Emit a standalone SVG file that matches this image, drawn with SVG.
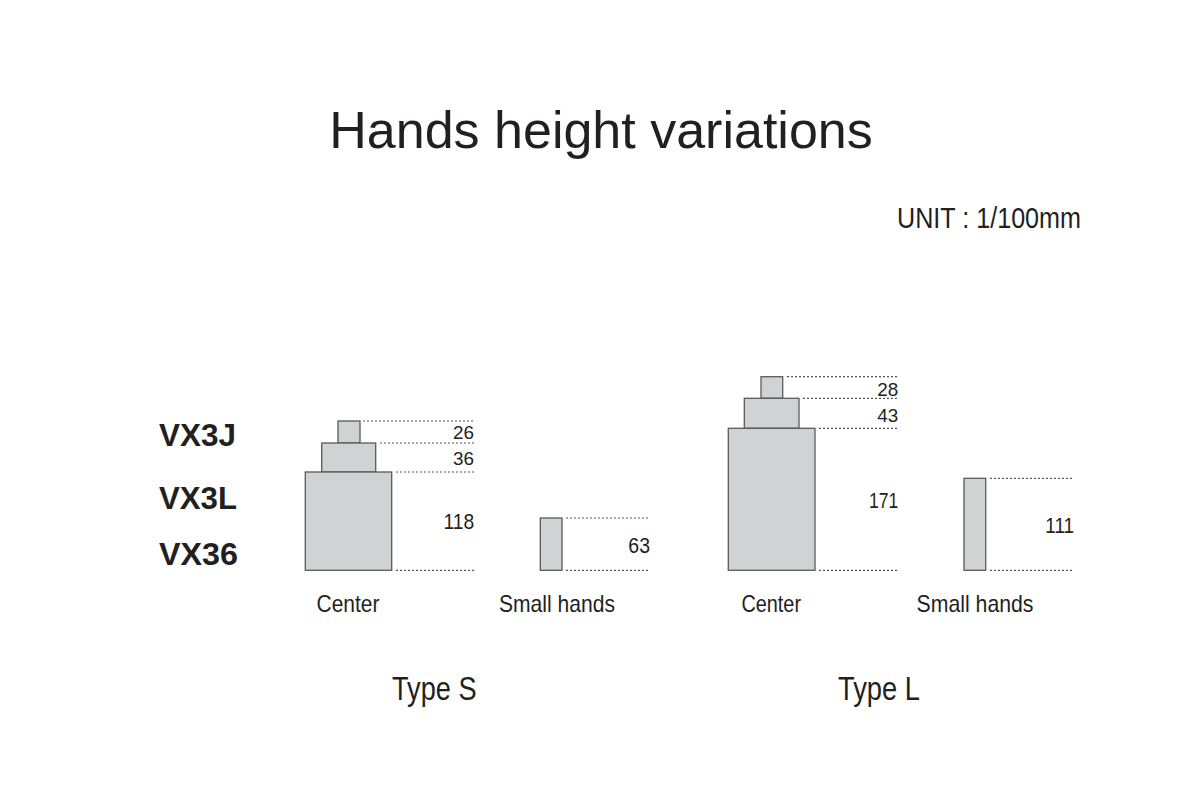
<svg xmlns="http://www.w3.org/2000/svg" width="1200" height="800" viewBox="0 0 1200 800">
<style>
.bg{fill:#ffffff}
.t{font-family:"Liberation Sans",Arial,sans-serif;fill:#231f20}
.title{font-size:52px}
.unit{font-size:30px}
.vx{font-size:30.5px;font-weight:bold}
.lab{font-size:24px}
.type{font-size:33.5px}
.n{font-size:19px}
.nb{font-size:22px}
.blk{fill:#d1d2d4;stroke:#5a5a5a;stroke-width:1.3}
.dot{stroke:#555;stroke-width:1.2;stroke-dasharray:2 2;fill:none}
</style>
<rect class="bg" x="0" y="0" width="1200" height="800"/>
<text class="t title" x="601" y="148" text-anchor="middle">Hands height variations</text>
<text class="t unit" x="897" y="228.3" textLength="184" lengthAdjust="spacingAndGlyphs">UNIT : 1/100mm</text>

<g id="model-labels">
<text class="t vx" x="159" y="446" textLength="77" lengthAdjust="spacingAndGlyphs">VX3J</text>
<text class="t vx" x="159" y="509" textLength="78" lengthAdjust="spacingAndGlyphs">VX3L</text>
<text class="t vx" x="159" y="565" textLength="79" lengthAdjust="spacingAndGlyphs">VX36</text>
</g>

<g id="connectors">
<line class="dot" x1="363" y1="421" x2="474" y2="421"/>
<line class="dot" x1="380" y1="443" x2="474" y2="443"/>
<line class="dot" x1="396" y1="472" x2="474" y2="472"/>
<line class="dot" x1="396" y1="570.3" x2="474" y2="570.3"/>
<line class="dot" x1="566" y1="518" x2="650" y2="518"/>
<line class="dot" x1="566" y1="570.3" x2="650" y2="570.3"/>
<line class="dot" x1="787" y1="376.7" x2="898" y2="376.7"/>
<line class="dot" x1="803" y1="398.3" x2="898" y2="398.3"/>
<line class="dot" x1="819" y1="428.3" x2="898" y2="428.3"/>
<line class="dot" x1="819" y1="570.3" x2="898" y2="570.3"/>
<line class="dot" x1="990" y1="478.3" x2="1073" y2="478.3"/>
<line class="dot" x1="990" y1="570.3" x2="1073" y2="570.3"/>
</g>

<g id="typeS-center">
<rect class="blk" x="338" y="421" width="22" height="22"/>
<rect class="blk" x="321.7" y="443" width="54" height="29"/>
<rect class="blk" x="305.3" y="472" width="86.4" height="98.3"/>
<text class="t n" x="453" y="439" textLength="21" lengthAdjust="spacingAndGlyphs">26</text>
<text class="t n" x="453" y="465" textLength="21" lengthAdjust="spacingAndGlyphs">36</text>
<text class="t nb" x="443.5" y="529.3" textLength="30.8" lengthAdjust="spacingAndGlyphs">118</text>
<text class="t lab" x="316.5" y="612.3" textLength="63" lengthAdjust="spacingAndGlyphs">Center</text>
</g>

<g id="typeS-small">
<rect class="blk" x="540.3" y="518" width="21.7" height="52.3"/>
<text class="t nb" x="628.3" y="552.7" textLength="21.7" lengthAdjust="spacingAndGlyphs">63</text>
<text class="t lab" x="499" y="612.3" textLength="116" lengthAdjust="spacingAndGlyphs">Small hands</text>
</g>

<g id="typeL-center">
<rect class="blk" x="761" y="376.7" width="21.7" height="21.6"/>
<rect class="blk" x="744.3" y="398.3" width="54.7" height="30"/>
<rect class="blk" x="728.3" y="428.3" width="86.7" height="142"/>
<text class="t n" x="877.3" y="396" textLength="21" lengthAdjust="spacingAndGlyphs">28</text>
<text class="t n" x="877.3" y="421.7" textLength="21" lengthAdjust="spacingAndGlyphs">43</text>
<text class="t nb" x="869" y="508.3" textLength="29.3" lengthAdjust="spacingAndGlyphs">171</text>
<text class="t lab" x="741.5" y="612.3" textLength="59.5" lengthAdjust="spacingAndGlyphs">Center</text>
</g>

<g id="typeL-small">
<rect class="blk" x="964" y="478.3" width="21.7" height="92"/>
<text class="t nb" x="1045.3" y="533.3" textLength="28.7" lengthAdjust="spacingAndGlyphs">111</text>
<text class="t lab" x="916.5" y="612.3" textLength="117" lengthAdjust="spacingAndGlyphs">Small hands</text>
</g>

<g id="type-labels">
<text class="t type" x="392" y="700" textLength="84.5" lengthAdjust="spacingAndGlyphs">Type S</text>
<text class="t type" x="838" y="700" textLength="82" lengthAdjust="spacingAndGlyphs">Type L</text>
</g>
</svg>
